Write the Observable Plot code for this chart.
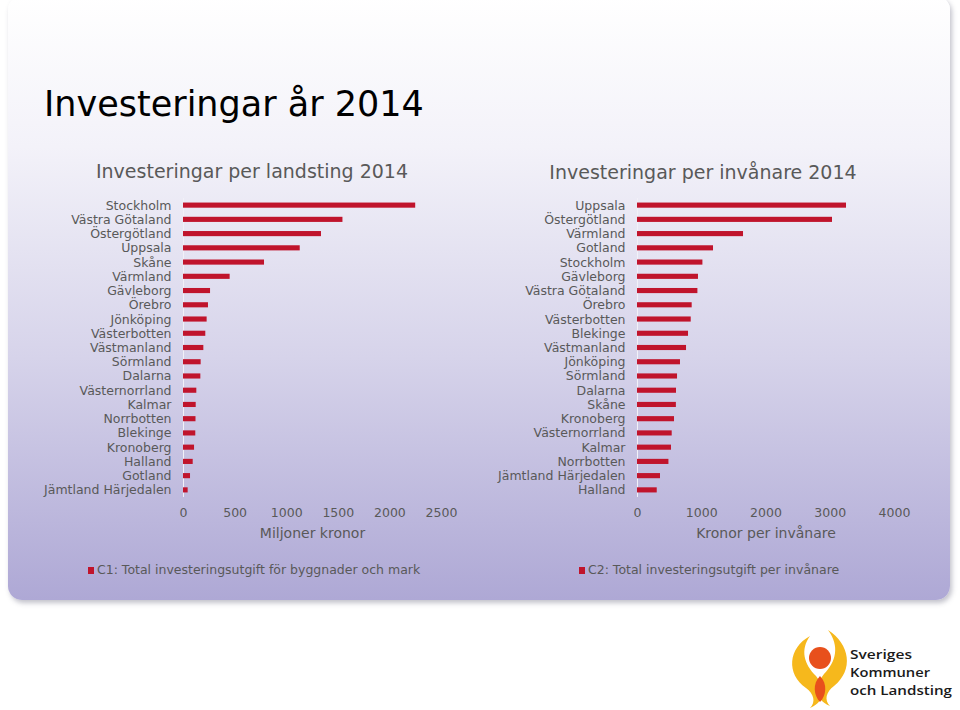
<!DOCTYPE html>
<html>
<head>
<meta charset="utf-8">
<script src="https://cdn.jsdelivr.net/npm/d3@7"></script>
<script src="https://cdn.jsdelivr.net/npm/@observablehq/plot@0.6"></script>
<style>
  html, body { margin: 0; padding: 0; background: #ffffff; }
  body { width: 960px; height: 710px; position: relative; overflow: hidden; font-family: "DejaVu Sans", Verdana, sans-serif; }
  #panel {
    position: absolute; left: 8px; top: -4px; width: 942px; height: 604px;
    border-radius: 14px;
    background: linear-gradient(to bottom, #ffffff 0%, #f3f2f9 25%, #d6d3ea 60%, #aea8d5 100%);
    box-shadow: 2px 3px 5px rgba(120,120,140,0.45);
  }
  .abs { position: absolute; white-space: nowrap; }
  #title { left: 44px; top: 87px; font-size: 35px; line-height: 1; color: #000; }
  .sub { top: 162px; font-size: 19px; line-height: 1; color: #595959; transform: translateX(-50%); }
  .legend { top: 564px; font-size: 12.5px; line-height: 1; color: #595959; }
  .legend .sw { display: inline-block; width: 6px; height: 7px; background: #c0142c; margin-right: 3px; vertical-align: 0px; }
  .chart { position: absolute; top: 190px; }
</style>
</head>
<body>
<div id="panel"></div>
<div id="title" class="abs">Investeringar år 2014</div>
<div class="abs sub" style="left:252px">Investeringar per landsting 2014</div>
<div class="abs sub" style="left:703px; top:163px">Investeringar per invånare 2014</div>
<div id="c1" class="chart" style="left:0px"></div>
<div id="c2" class="chart" style="left:460px"></div>
<div class="abs legend" style="left:88px"><span class="sw"></span>C1: Total investeringsutgift för byggnader och mark</div>
<div class="abs legend" style="left:579px"><span class="sw"></span>C2: Total investeringsutgift per invånare</div>

<svg class="abs" style="left:780px; top:626px" width="180" height="84" viewBox="0 0 180 84">
  <path d="M30 10 C 8 22, 6 48, 26 62 C 34 68, 36 76, 30 82 C 48 74, 44 60, 36 50 C 24 38, 20 24, 30 10 Z" fill="#f6b81c"/>
  <path d="M48 4 C 70 18, 74 44, 54 60 C 46 66, 44 74, 50 80 C 32 72, 36 58, 44 48 C 56 36, 60 20, 48 4 Z" fill="#f6b81c"/>
  <path d="M40 50 C 32 58, 34 70, 40 76 C 46 70, 48 58, 40 50 Z" fill="#e8501c"/>
  <circle cx="40" cy="32" r="11" fill="#e8501c"/>
  <g font-family="'Open Sans', 'DejaVu Sans', sans-serif" font-size="13" font-weight="600" fill="#1a1a1a">
    <text x="70" y="33" textLength="62" lengthAdjust="spacingAndGlyphs">Sveriges</text>
    <text x="70" y="51" textLength="80" lengthAdjust="spacingAndGlyphs">Kommuner</text>
    <text x="70" y="69" textLength="102" lengthAdjust="spacingAndGlyphs">och Landsting</text>
  </g>
</svg>

<script>
// Chart 1: Investeringar per landsting 2014 (Miljoner kronor)
const regions1 = ["Stockholm","Västra Götaland","Östergötland","Uppsala","Skåne","Värmland","Gävleborg","Örebro","Jönköping","Västerbotten","Västmanland","Sörmland","Dalarna","Västernorrland","Kalmar","Norrbotten","Blekinge","Kronoberg","Halland","Gotland","Jämtland Härjedalen"];
const values1 = [2250,1545,1337,1131,785,452,262,242,229,216,197,171,168,129,123,121,119,107,94,68,45];
const ticks1 = [0,500,1000,1500,2000,2500];

// Chart 2: Investeringar per invånare 2014 (Kronor per invånare)
const regions2 = ["Uppsala","Östergötland","Värmland","Gotland","Stockholm","Gävleborg","Västra Götaland","Örebro","Västerbotten","Blekinge","Västmanland","Jönköping","Sörmland","Dalarna","Skåne","Kronoberg","Västernorrland","Kalmar","Norrbotten","Jämtland Härjedalen","Halland"];
const values2 = [3253,3035,1650,1183,1018,949,940,851,836,794,763,669,623,607,605,576,540,529,489,358,307];
const ticks2 = [0,1000,2000,3000,4000];

const barColor = "#c0142c";
const textColor = "#595959";

function makeChart(regions, values, ticks, xMax, label, marginLeft, marginRight) {
  const data = regions.map((r, i) => ({region: r, value: values[i]}));
  return Plot.plot({
    width: 460,
    height: 357,
    marginTop: 8,
    marginBottom: 50,
    marginLeft,
    marginRight,
    style: {background: "transparent", color: textColor, fontFamily: "'DejaVu Sans', Verdana, sans-serif", fontSize: "12.5px", overflow: "visible"},
    x: {domain: [0, xMax]},
    y: {domain: regions, paddingInner: 0.64, paddingOuter: 0.32, round: false},
    marks: [
      Plot.ruleX([0], {stroke: "#f2f1f8", strokeWidth: 1}),
      Plot.barX(data, {x: "value", y: "region", fill: barColor}),
      Plot.axisY({tickSize: 0, tickPadding: 12, label: null, fontSize: 12.5}),
      Plot.axisX({ticks, tickSize: 0, tickPadding: 11, tickFormat: d => String(d), fontSize: 12.5, label: null}),
      Plot.text([label], {frameAnchor: "bottom", dy: 40, fontSize: 14, fill: textColor})
    ]
  });
}

document.getElementById("c1").appendChild(makeChart(regions1, values1, ticks1, 2500, "Miljoner kronor", 183, 19));
document.getElementById("c2").appendChild(makeChart(regions2, values2, ticks2, 4000, "Kronor per invånare", 177, 26));
</script>
</body>
</html>
